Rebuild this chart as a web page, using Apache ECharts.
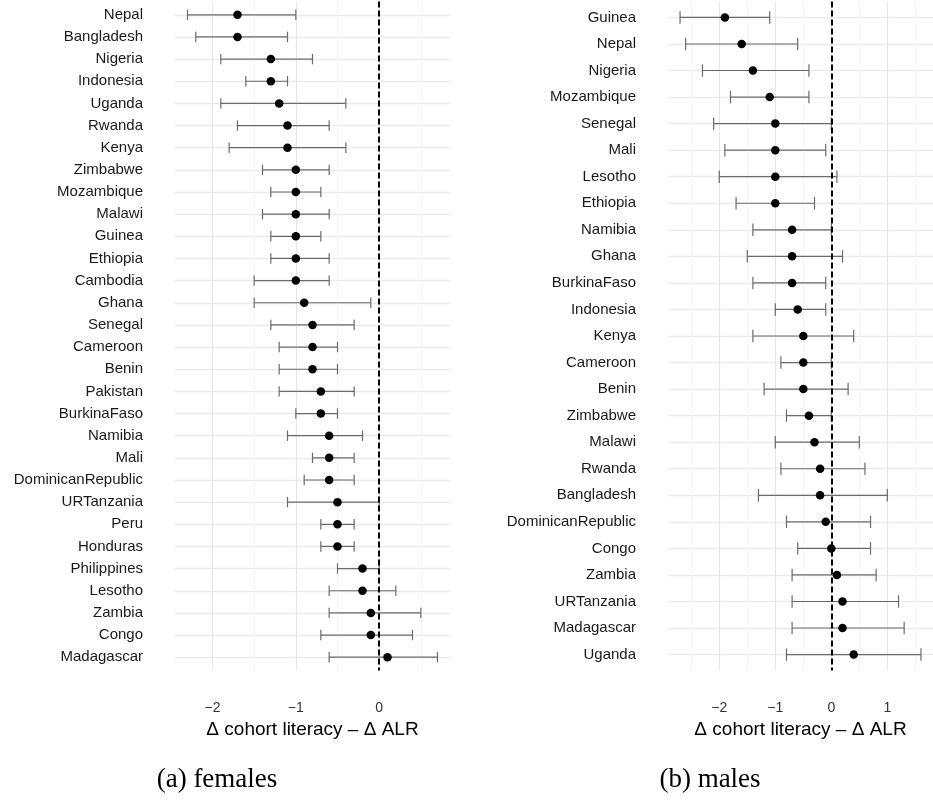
<!DOCTYPE html>
<html>
<head>
<meta charset="utf-8">
<script src="https://cdn.jsdelivr.net/npm/echarts@6/dist/echarts.min.js"></script>
<style>
  html, body { margin: 0; padding: 0; background: #ffffff; }
  #chart { width: 933px; height: 800px; }
</style>
</head>
<body>
<div id="chart"></div>
<script>
// Females: countries listed top to bottom, point estimate and interval bounds
const femaleCountries = ['Nepal', 'Bangladesh', 'Nigeria', 'Indonesia', 'Uganda', 'Rwanda', 'Kenya',
  'Zimbabwe', 'Mozambique', 'Malawi', 'Guinea', 'Ethiopia', 'Cambodia', 'Ghana', 'Senegal',
  'Cameroon', 'Benin', 'Pakistan', 'BurkinaFaso', 'Namibia', 'Mali', 'DominicanRepublic',
  'URTanzania', 'Peru', 'Honduras', 'Philippines', 'Lesotho', 'Zambia', 'Congo', 'Madagascar'];
const femaleEst = [-1.7, -1.7, -1.3, -1.3, -1.2, -1.1, -1.1, -1.0, -1.0, -1.0, -1.0, -1.0, -1.0, -0.9, -0.8,
  -0.8, -0.8, -0.7, -0.7, -0.6, -0.6, -0.6, -0.5, -0.5, -0.5, -0.2, -0.2, -0.1, -0.1, 0.1];
const femaleLow = [-2.3, -2.2, -1.9, -1.6, -1.9, -1.7, -1.8, -1.4, -1.3, -1.4, -1.3, -1.3, -1.5, -1.5, -1.3,
  -1.2, -1.2, -1.2, -1.0, -1.1, -0.8, -0.9, -1.1, -0.7, -0.7, -0.5, -0.6, -0.6, -0.7, -0.6];
const femaleHigh = [-1.0, -1.1, -0.8, -1.1, -0.4, -0.6, -0.4, -0.6, -0.7, -0.6, -0.7, -0.6, -0.6, -0.1, -0.3,
  -0.5, -0.5, -0.3, -0.5, -0.2, -0.3, -0.3, 0.0, -0.3, -0.3, 0.0, 0.2, 0.5, 0.4, 0.7];

// Males
const maleCountries = ['Guinea', 'Nepal', 'Nigeria', 'Mozambique', 'Senegal', 'Mali', 'Lesotho', 'Ethiopia',
  'Namibia', 'Ghana', 'BurkinaFaso', 'Indonesia', 'Kenya', 'Cameroon', 'Benin', 'Zimbabwe', 'Malawi',
  'Rwanda', 'Bangladesh', 'DominicanRepublic', 'Congo', 'Zambia', 'URTanzania', 'Madagascar', 'Uganda'];
const maleEst = [-1.9, -1.6, -1.4, -1.1, -1.0, -1.0, -1.0, -1.0, -0.7, -0.7, -0.7, -0.6, -0.5, -0.5, -0.5,
  -0.4, -0.3, -0.2, -0.2, -0.1, 0.0, 0.1, 0.2, 0.2, 0.4];
const maleLow = [-2.7, -2.6, -2.3, -1.8, -2.1, -1.9, -2.0, -1.7, -1.4, -1.5, -1.4, -1.0, -1.4, -0.9, -1.2,
  -0.8, -1.0, -0.9, -1.3, -0.8, -0.6, -0.7, -0.7, -0.7, -0.8];
const maleHigh = [-1.1, -0.6, -0.4, -0.4, 0.0, -0.1, 0.1, -0.3, 0.0, 0.2, -0.1, -0.1, 0.4, 0.0, 0.3,
  0.0, 0.5, 0.6, 1.0, 0.7, 0.7, 0.8, 1.2, 1.3, 1.6];

// Axis ticks and gridlines
const femaleTicks = [-2, -1, 0];
const femaleMinor = [-1.5, -0.5, 0.5];
const maleTicks = [-2, -1, 0, 1];
const maleMinor = [-2.5, -1.5, -0.5, 0.5, 1.5];

const axisTitle = '\u0394 cohort literacy \u2013 \u0394 ALR';
const captions = ['(a) females', '(b) males'];

const SANS = '"Liberation Sans", Arial, Helvetica, sans-serif';
const SERIF = '"Liberation Serif", "Times New Roman", serif';

const panels = [
  { names: femaleCountries, est: femaleEst, low: femaleLow, high: femaleHigh,
    ticks: femaleTicks, minor: femaleMinor, left: 175, caption: captions[0], capX: 217 },
  { names: maleCountries, est: maleEst, low: maleLow, high: maleHigh,
    ticks: maleTicks, minor: maleMinor, left: 668, caption: captions[1], capX: 710 }
];

const grids = [], xAxes = [], yAxes = [], series = [], graphics = [];

function fmtTick(v) {
  return v < 0 ? '\u2212' + Math.abs(v) : String(v);
}

panels.forEach((p, k) => {
  const n = p.names.length;
  // Expand the data range by 5% on each side
  const lo = Math.min(...p.low), hi = Math.max(...p.high);
  const pad = (hi - lo) * 0.05;
  const rows = p.names.map((_, i) => i + 1);

  grids.push({ left: p.left, top: 1.5, width: 275, height: 669, containLabel: false });

  xAxes.push({
    type: 'value', gridIndex: k, min: lo - pad, max: hi + pad,
    axisLine: { show: false }, axisTick: { show: false }, splitLine: { show: false },
    axisLabel: {
      customValues: p.ticks, formatter: fmtTick, margin: 31,
      fontFamily: SANS, fontSize: 14, color: '#333333'
    },
    name: axisTitle, nameLocation: 'middle', nameGap: 47,
    nameTextStyle: { fontFamily: SANS, fontSize: 19, color: '#000000' }
  });

  yAxes.push({
    type: 'value', gridIndex: k, inverse: true, min: 0.4, max: n + 0.6,
    axisLine: { show: false }, axisTick: { show: false }, splitLine: { show: false },
    axisLabel: {
      customValues: rows, formatter: v => p.names[Math.round(v) - 1], margin: 32,
      fontFamily: SANS, fontSize: 15, color: '#1a1a1a'
    }
  });

  // Gridlines: rows, major and minor vertical lines
  const gridData = []
    .concat(rows.map(r => ({ yAxis: r, lineStyle: { color: '#ebebeb', width: 1.3, type: 'solid' } })))
    .concat(p.ticks.map(t => ({ xAxis: t, lineStyle: { color: '#e6e6e6', width: 1.2, type: 'solid' } })))
    .concat(p.minor.map(t => ({ xAxis: t, lineStyle: { color: '#f2f2f2', width: 0.8, type: 'solid' } })));

  // Interval bars with end caps
  series.push({
    type: 'custom', xAxisIndex: k, yAxisIndex: k, z: 2, silent: true,
    data: rows.map((r, i) => [r, p.low[i], p.high[i]]),
    encode: { x: [1, 2], y: 0 },
    renderItem(params, api) {
      const y = api.value(0);
      const a = api.coord([api.value(1), y]);
      const b = api.coord([api.value(2), y]);
      const h = api.size([0, 0.47])[1] / 2;
      const style = { stroke: '#6b6b6b', lineWidth: 1.2, fill: null };
      return {
        type: 'group',
        children: [
          { type: 'line', shape: { x1: a[0], y1: a[1], x2: b[0], y2: b[1] }, style },
          { type: 'line', shape: { x1: a[0], y1: a[1] - h, x2: a[0], y2: a[1] + h }, style },
          { type: 'line', shape: { x1: b[0], y1: b[1] - h, x2: b[0], y2: b[1] + h }, style }
        ]
      };
    },
    markLine: {
      silent: true, symbol: 'none', z: 1, animation: false,
      label: { show: false }, emphasis: { disabled: true },
      data: gridData
    },
    animation: false
  });

  // Point estimates and the zero reference line
  series.push({
    type: 'scatter', xAxisIndex: k, yAxisIndex: k, z: 4, silent: true,
    symbol: 'circle', symbolSize: 8.5,
    itemStyle: { color: '#000000', opacity: 1 },
    data: rows.map((r, i) => [p.est[i], r]),
    markLine: {
      silent: true, symbol: 'none', z: 3, animation: false,
      label: { show: false }, emphasis: { disabled: true },
      lineStyle: { color: '#000000', width: 2, type: [6, 3] },
      data: [{ xAxis: 0 }]
    },
    animation: false
  });

  graphics.push({
    type: 'text', x: p.capX, y: 766,
    style: { text: p.caption, fontFamily: SERIF, fontSize: 27, fill: '#000000', textAlign: 'center' }
  });
});

const chart = echarts.init(document.getElementById('chart'), null, { renderer: 'canvas' });
chart.setOption({
  animation: false,
  backgroundColor: '#ffffff',
  grid: grids,
  xAxis: xAxes,
  yAxis: yAxes,
  series: series,
  graphic: graphics
});
</script>
</body>
</html>
